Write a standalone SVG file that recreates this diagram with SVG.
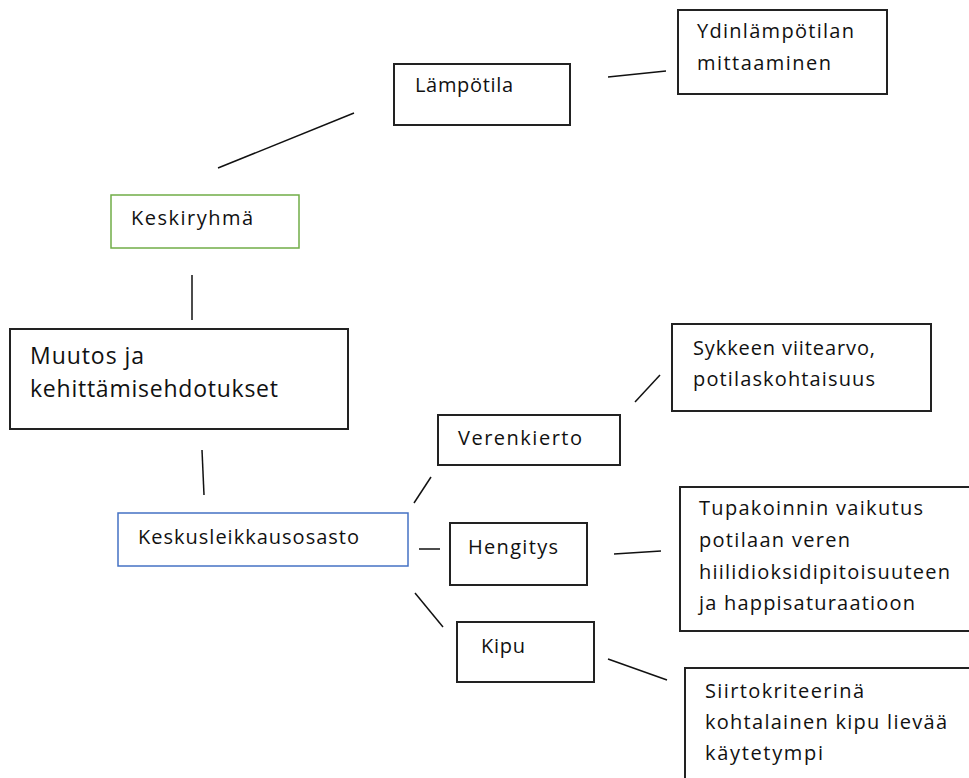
<svg xmlns="http://www.w3.org/2000/svg" width="969" height="778" viewBox="0 0 969 778">
<style>
.box{fill:#fff;stroke:#222;stroke-width:2}
.g{stroke:#70ad47;stroke-width:1.5}
.b{stroke:#4472c4;stroke-width:1.5}
.t{font-family:"Open Sans","Noto Sans",sans-serif;font-size:20px;fill:#111}
.big{font-size:23px}
.c line{stroke:#111;stroke-width:1.5}
</style>
<rect width="969" height="778" fill="#fff"/>
<g class="c" id="connectors">
<line x1="608" y1="77" x2="666" y2="71"/>
<line x1="218" y1="168" x2="354" y2="113"/>
<line x1="192" y1="275" x2="192" y2="320"/>
<line x1="202" y1="450" x2="204" y2="495"/>
<line x1="414" y1="503" x2="431" y2="477"/>
<line x1="635" y1="402" x2="660" y2="375"/>
<line x1="419" y1="549" x2="440" y2="549"/>
<line x1="614" y1="554" x2="661" y2="551"/>
<line x1="415" y1="593" x2="443" y2="627"/>
<line x1="608" y1="659" x2="667" y2="680"/>
</g>
<g id="lampotila"><rect class="box" x="394" y="64" width="176" height="61"/><text class="t" x="415" y="92" textLength="98" lengthAdjust="spacing">Lämpötila</text></g>
<g id="ydin"><rect class="box" x="678" y="10" width="209" height="84"/><text class="t" x="697" y="38" textLength="157" lengthAdjust="spacing">Ydinlämpötilan</text><text class="t" x="697" y="70" textLength="134" lengthAdjust="spacing">mittaaminen</text></g>
<g id="keskiryhma"><rect class="box g" x="111" y="195" width="188" height="53"/><text class="t" x="131" y="225" textLength="122" lengthAdjust="spacing">Keskiryhmä</text></g>
<g id="muutos"><rect class="box" x="10" y="329" width="338" height="100"/><text class="t big" x="30" y="364" textLength="114" lengthAdjust="spacing">Muutos ja</text><text class="t big" x="30" y="397" textLength="248" lengthAdjust="spacing">kehittämisehdotukset</text></g>
<g id="keskusleikkausosasto"><rect class="box b" x="118" y="513" width="290" height="53"/><text class="t" x="138" y="544" textLength="221" lengthAdjust="spacing">Keskusleikkausosasto</text></g>
<g id="verenkierto"><rect class="box" x="438" y="415" width="182" height="50"/><text class="t" x="458" y="445" textLength="124" lengthAdjust="spacing">Verenkierto</text></g>
<g id="sykkeen"><rect class="box" x="672" y="324" width="259" height="87"/><text class="t" x="693" y="355" textLength="182" lengthAdjust="spacing">Sykkeen viitearvo,</text><text class="t" x="693" y="386" textLength="182" lengthAdjust="spacing">potilaskohtaisuus</text></g>
<g id="hengitys"><rect class="box" x="450" y="523" width="137" height="62"/><text class="t" x="468" y="554" textLength="90" lengthAdjust="spacing">Hengitys</text></g>
<g id="tupakoinnin"><rect class="box" x="680" y="487" width="300" height="144"/><text class="t" x="699" y="515" textLength="224" lengthAdjust="spacing">Tupakoinnin vaikutus</text><text class="t" x="699" y="547" textLength="151" lengthAdjust="spacing">potilaan veren</text><text class="t" x="699" y="579" textLength="251" lengthAdjust="spacing">hiilidioksidipitoisuuteen</text><text class="t" x="699" y="610" textLength="216" lengthAdjust="spacing">ja happisaturaatioon</text></g>
<g id="kipu"><rect class="box" x="457" y="622" width="137" height="60"/><text class="t" x="481" y="653" textLength="44" lengthAdjust="spacing">Kipu</text></g>
<g id="siirto"><rect class="box" x="685" y="668" width="300" height="120"/><text class="t" x="705" y="698" textLength="159" lengthAdjust="spacing">Siirtokriteerinä</text><text class="t" x="705" y="729" textLength="242" lengthAdjust="spacing">kohtalainen kipu lievää</text><text class="t" x="705" y="760" textLength="118" lengthAdjust="spacing">käytetympi</text></g>
</svg>
